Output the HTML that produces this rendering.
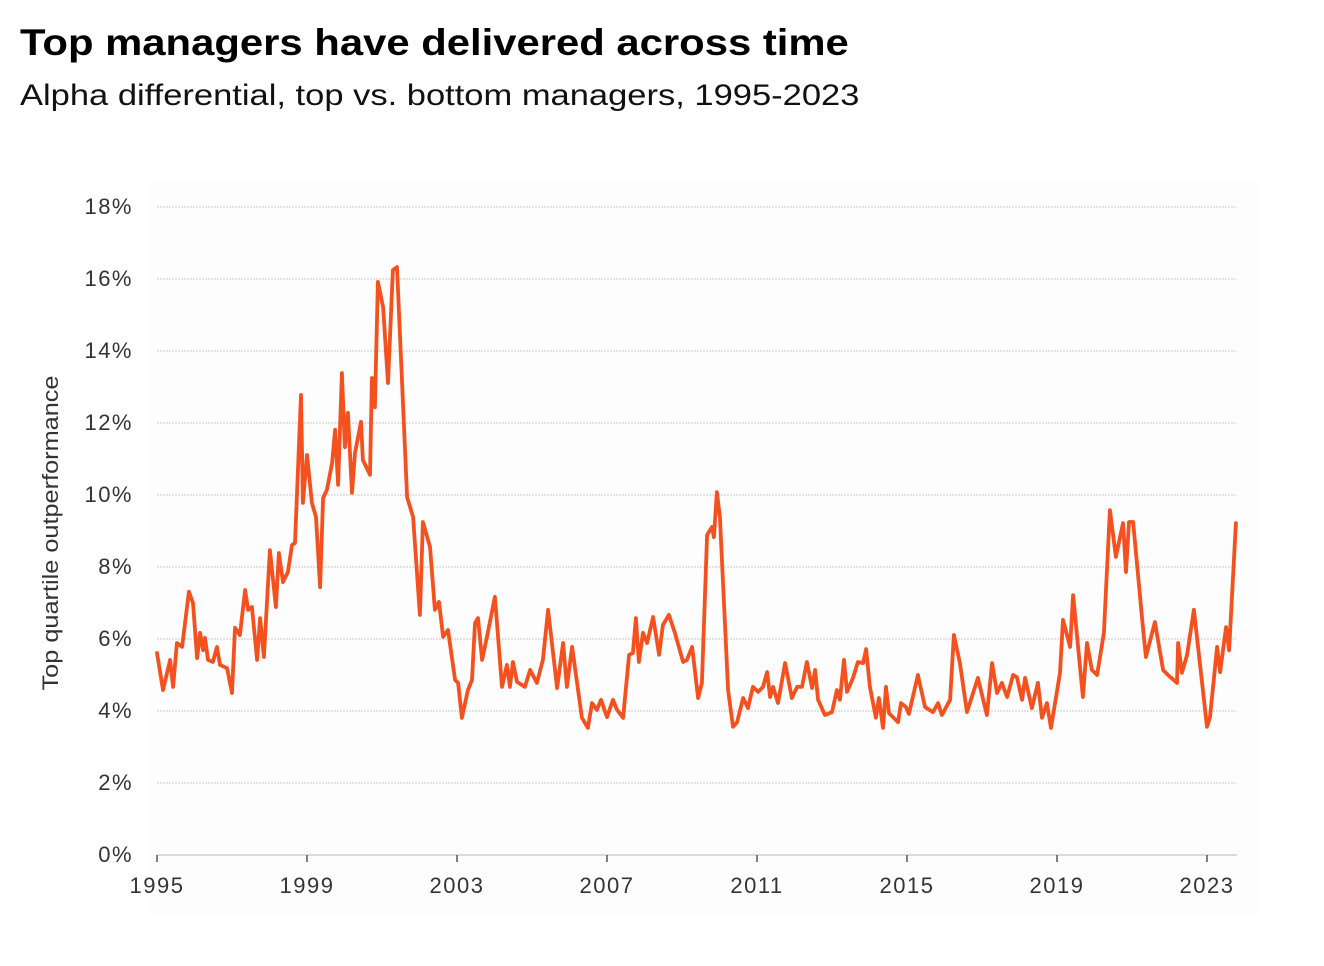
<!DOCTYPE html>
<html><head><meta charset="utf-8">
<style>
html,body{margin:0;padding:0;background:#fff;}
body{width:1324px;height:966px;position:relative;overflow:hidden;font-family:"Liberation Sans",sans-serif;}
#title{position:absolute;left:20px;top:22px;font-size:37px;font-weight:bold;color:#000;transform:scaleX(1.13);transform-origin:0 0;white-space:nowrap;}
#subtitle{position:absolute;left:20px;top:79px;font-size:30px;color:#111;transform:scaleX(1.15);transform-origin:0 0;white-space:nowrap;}
svg{position:absolute;left:0;top:0;}
</style></head><body>
<div id="title">Top managers have delivered across time</div>
<div id="subtitle">Alpha differential, top vs. bottom managers, 1995-2023</div>
<svg id="chart" width="1324" height="966"></svg>
<script>
const years = [1995.00,1995.16,1995.35,1995.43,1995.53,1995.67,1995.85,1995.96,1996.07,1996.15,1996.23,1996.28,1996.36,1996.49,1996.60,1996.68,1996.87,1997.00,1997.08,1997.21,1997.35,1997.43,1997.53,1997.67,1997.75,1997.85,1998.01,1998.17,1998.25,1998.36,1998.49,1998.60,1998.68,1998.84,1998.89,1999.00,1999.13,1999.24,1999.35,1999.43,1999.53,1999.67,1999.75,1999.83,1999.93,2000.01,2000.09,2000.20,2000.28,2000.44,2000.49,2000.68,2000.73,2000.81,2000.89,2001.03,2001.16,2001.29,2001.40,2001.67,2001.83,2002.01,2002.09,2002.28,2002.41,2002.52,2002.63,2002.76,2002.95,2003.03,2003.13,2003.29,2003.40,2003.48,2003.56,2003.67,2003.80,2004.01,2004.20,2004.33,2004.41,2004.49,2004.60,2004.81,2004.95,2005.13,2005.29,2005.43,2005.67,2005.83,2005.93,2006.07,2006.33,2006.49,2006.60,2006.73,2006.84,2007.00,2007.16,2007.27,2007.43,2007.59,2007.69,2007.77,2007.85,2007.96,2008.07,2008.23,2008.39,2008.49,2008.65,2008.81,2009.03,2009.13,2009.27,2009.43,2009.53,2009.67,2009.80,2009.85,2009.93,2010.01,2010.23,2010.36,2010.47,2010.63,2010.76,2010.89,2011.03,2011.16,2011.27,2011.35,2011.43,2011.56,2011.75,2011.93,2012.07,2012.20,2012.33,2012.47,2012.55,2012.63,2012.81,2013.00,2013.13,2013.21,2013.32,2013.40,2013.56,2013.69,2013.83,2013.91,2014.01,2014.17,2014.25,2014.36,2014.44,2014.52,2014.76,2014.84,2014.97,2015.05,2015.29,2015.48,2015.69,2015.83,2015.93,2016.15,2016.25,2016.41,2016.60,2016.89,2017.13,2017.27,2017.40,2017.53,2017.67,2017.83,2017.93,2018.07,2018.15,2018.33,2018.49,2018.60,2018.73,2018.84,2019.08,2019.16,2019.35,2019.43,2019.69,2019.80,2019.93,2020.07,2020.25,2020.41,2020.57,2020.76,2020.84,2020.92,2021.03,2021.29,2021.37,2021.61,2021.83,2021.96,2022.20,2022.23,2022.33,2022.47,2022.65,2023.00,2023.08,2023.27,2023.35,2023.51,2023.59,2023.77];
const values = [5.61,4.58,5.42,4.67,5.89,5.78,7.31,7.00,5.47,6.17,5.69,6.03,5.42,5.36,5.78,5.28,5.19,4.50,6.31,6.11,7.36,6.81,6.89,5.42,6.58,5.50,8.47,6.89,8.39,7.58,7.86,8.61,8.67,12.78,9.78,11.11,9.78,9.39,7.44,9.92,10.14,10.89,11.81,10.28,13.39,11.33,12.28,10.06,11.17,12.03,10.97,10.56,13.25,12.44,15.92,15.22,13.11,16.25,16.33,9.94,9.39,6.67,9.25,8.56,6.81,7.03,6.06,6.25,4.86,4.78,3.81,4.58,4.86,6.44,6.58,5.42,6.06,7.17,4.67,5.28,4.67,5.36,4.81,4.67,5.14,4.78,5.42,6.81,4.64,5.89,4.67,5.78,3.81,3.53,4.22,4.03,4.31,3.83,4.31,4.03,3.81,5.56,5.61,6.58,5.36,6.17,5.89,6.61,5.56,6.39,6.67,6.17,5.36,5.42,5.78,4.36,4.78,8.89,9.11,8.83,10.08,9.39,4.58,3.56,3.69,4.36,4.08,4.67,4.53,4.67,5.08,4.39,4.67,4.22,5.33,4.36,4.67,4.67,5.36,4.64,5.14,4.31,3.89,3.97,4.58,4.31,5.42,4.53,4.92,5.36,5.33,5.72,4.67,3.81,4.36,3.53,4.67,3.94,3.69,4.22,4.11,3.92,5.00,4.11,3.97,4.22,3.89,4.31,6.11,5.33,3.97,4.92,3.89,5.33,4.50,4.78,4.39,5.00,4.94,4.31,4.92,4.08,4.78,3.81,4.22,3.53,5.06,6.53,5.78,7.22,4.39,5.89,5.14,5.00,6.17,9.58,8.28,9.22,7.86,9.25,9.25,6.33,5.50,6.47,5.14,5.00,4.78,5.89,5.06,5.56,6.81,3.56,3.83,5.78,5.08,6.33,5.69,9.22];
const yTicks = [0,2,4,6,8,10,12,14,16,18];
const xTicks = [1995,1999,2003,2007,2011,2015,2019,2023];

const NS="http://www.w3.org/2000/svg";
const svg=document.getElementById('chart');
const X0=157, X1=1237, Y0=855;
const xScale = y => 157 + (y-1995)*37.5;
const yScale = v => 855 - v*36;
function mk(tag, attrs, parent){const e=document.createElementNS(NS,tag);for(const k in attrs)e.setAttribute(k,attrs[k]);(parent||svg).appendChild(e);return e;}

const bg=mk('rect',{x:150,y:180,width:1110,height:735,fill:'#fdfdfd'});



yTicks.forEach(t=>{
  const y=yScale(t);
  if(t>0){
    const g=mk('line',{x1:X0,x2:X1,y1:y,y2:y,stroke:'#d4d4d4','stroke-width':1.3,'stroke-dasharray':'2,1'});
    
    
  }
  const tx=mk('text',{x:133,y:y+7,'text-anchor':'end','font-size':22,'letter-spacing':1.5,fill:'#333','font-family':'Liberation Sans, sans-serif'});
  tx.textContent=t+'%';
  
  
});
const ax=mk('line',{x1:X0,x2:X1,y1:Y0,y2:Y0,stroke:'#cfcfcf','stroke-width':1.5});


xTicks.forEach(t=>{
  const x=xScale(t);
  const tk=mk('line',{x1:x,x2:x,y1:Y0,y2:Y0+7,stroke:'#555','stroke-width':1.5});
  
  
  const tx=mk('text',{x:x,y:893,'text-anchor':'middle','font-size':22,'letter-spacing':1.5,fill:'#333','font-family':'Liberation Sans, sans-serif'});
  tx.textContent=t;
  
  
});
const yt=mk('text',{x:0,y:0,transform:'translate(58,533) rotate(-90)','text-anchor':'middle','font-size':22,textLength:315,lengthAdjust:'spacingAndGlyphs',fill:'#333','font-family':'Liberation Sans, sans-serif'});
yt.textContent='Top quartile outperformance';



const d=years.map((y,i)=>(i?'L':'M')+xScale(y).toFixed(1)+','+yScale(values[i]).toFixed(1)).join(' ');
const line=mk('path',{d:d,fill:'none',stroke:'#f4511e','stroke-width':3.8,'stroke-linejoin':'round','stroke-linecap':'round'});


</script>
</body></html>
